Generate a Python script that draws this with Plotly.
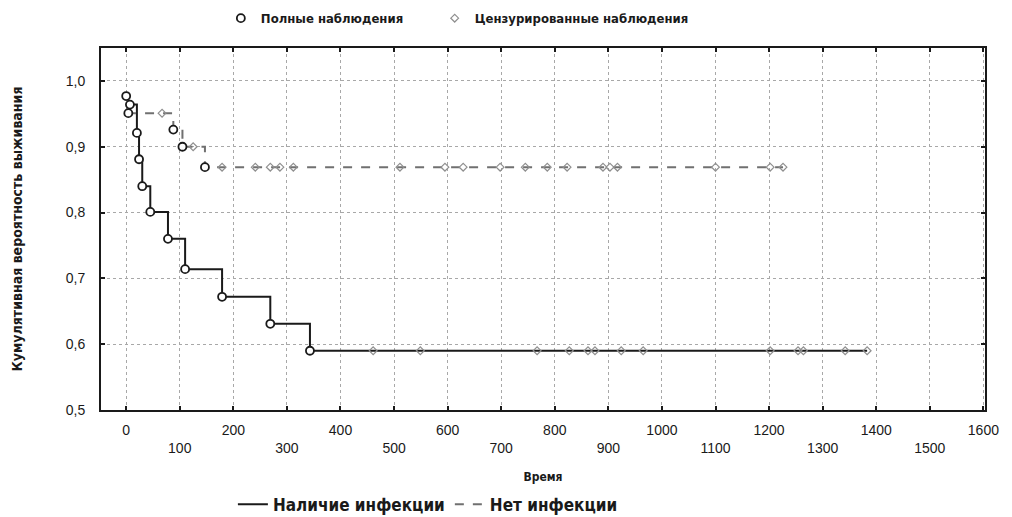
import plotly.graph_objects as go

# ---- data ----
# Наличие инфекции (solid): complete observations (events)
inf_event_t = [7, 20, 24, 30, 45, 78, 110, 179, 269, 343]
inf_event_s = [0.964, 0.921, 0.881, 0.840, 0.801, 0.760, 0.714, 0.672, 0.631, 0.590]
# censored observations
inf_cens_t = [461, 549, 767, 827, 862, 875, 924, 965, 1202, 1254, 1264, 1342, 1383]
inf_cens_s = [0.590] * 13

# Нет инфекции (dashed)
nin_event_t = [0, 4, 88, 105, 147]
nin_event_s = [0.977, 0.951, 0.926, 0.900, 0.869]
nin_cens_t = [67, 125, 179, 241, 269, 287, 312, 511, 595, 629, 698, 745, 786,
              823, 890, 903, 917, 1100, 1202, 1226]
nin_cens_s = [0.951, 0.900] + [0.869] * 18

x_tick_vals = [0, 100, 200, 300, 400, 500, 600, 700, 800, 900, 1000, 1100,
               1200, 1300, 1400, 1500, 1600]
x_tick_text = ["0", "<br>100", "200", "<br>300", "400", "<br>500", "600",
               "<br>700", "800", "<br>900", "1000", "<br>1100", "1200",
               "<br>1300", "1400", "<br>1500", "1600"]
y_tick_vals = [0.5, 0.6, 0.7, 0.8, 0.9, 1.0]
y_tick_text = ["0,5", "0,6", "0,7", "0,8", "0,9", "1,0"]

series_names = ["Наличие инфекции", "Нет инфекции"]
marker_names = ["Полные наблюдения", "Цензурированные наблюдения"]

TXT = "DejaVu Sans Condensed, DejaVu Sans, sans-serif"
WIDE = "Liberation Sans, Arial, sans-serif"
INK = "#1a1a1a"

fig = go.Figure()

# step lines
inf_line_x = inf_event_t + [max(inf_cens_t)]
inf_line_y = inf_event_s + [inf_event_s[-1]]
nin_line_x = nin_event_t + [max(nin_cens_t)]
nin_line_y = nin_event_s + [nin_event_s[-1]]

fig.add_trace(go.Scatter(
    x=inf_line_x, y=inf_line_y, mode="lines", line_shape="hv",
    line=dict(color=INK, width=2), name=series_names[0], legend="legend2"))
fig.add_trace(go.Scatter(
    x=nin_line_x, y=nin_line_y, mode="lines", line_shape="hv",
    line=dict(color="#707070", width=2, dash="dash"), name=series_names[1],
    legend="legend2"))

# censored markers
cens_marker = dict(symbol="diamond-open", size=6, color="#8f8f8f",
                   line=dict(width=1.2, color="#8f8f8f"))
fig.add_trace(go.Scatter(
    x=inf_cens_t, y=inf_cens_s, mode="markers", marker=cens_marker,
    name=marker_names[1], legendgroup="cens", showlegend=False, legend="legend3"))
fig.add_trace(go.Scatter(
    x=nin_cens_t, y=nin_cens_s, mode="markers", marker=cens_marker,
    name=marker_names[1], legendgroup="cens", showlegend=True, legend="legend3"))

# complete observations (open circles)
circ_marker = dict(symbol="circle", size=8, color="white",
                   line=dict(width=1.8, color=INK))
fig.add_trace(go.Scatter(
    x=inf_event_t, y=inf_event_s, mode="markers", marker=circ_marker,
    name=marker_names[0], legendgroup="comp", showlegend=True, legend="legend"))
fig.add_trace(go.Scatter(
    x=nin_event_t, y=nin_event_s, mode="markers", marker=circ_marker,
    name=marker_names[0], legendgroup="comp", showlegend=False, legend="legend"))

top_font = dict(family=TXT, size=13, color=INK, weight="bold")

# page has an 8px body margin, so the figure is 8px smaller and shifted
fig.update_layout(
    width=1004, height=509,
    margin=dict(l=93, r=27, t=40, b=107, autoexpand=False),
    paper_bgcolor="white", plot_bgcolor="white",
    font=dict(family=WIDE, color=INK),
    legend=dict(orientation="h", x=0.212, xanchor="left", xref="container",
                y=0.980, yanchor="middle", yref="container",
                font=top_font, bgcolor="rgba(0,0,0,0)"),
    legend3=dict(orientation="h", x=0.425, xanchor="left", xref="container",
                 y=0.980, yanchor="middle", yref="container",
                 font=top_font, bgcolor="rgba(0,0,0,0)"),
    legend2=dict(orientation="h", x=0.224, xanchor="left", xref="container",
                 y=0.024, yanchor="middle", yref="container",
                 font=dict(family=TXT, size=17, color=INK, weight="bold"),
                 bgcolor="rgba(0,0,0,0)"),
    xaxis=dict(
        range=[-47, 1603], tickvals=x_tick_vals, ticktext=x_tick_text,
        tickfont=dict(family=WIDE, size=14, color=INK),
        ticks="inside", ticklen=4, tickcolor=INK, tickwidth=2,
        ticklabelstandoff=6, automargin=False,
        showline=True, linecolor=INK, linewidth=2, mirror="ticks",
        showgrid=True, gridcolor="#a8a8a8", griddash="dot", gridwidth=1,
        zeroline=False,
        title=dict(text="Время",
                   font=dict(family=TXT, size=12, color=INK, weight="bold"),
                   standoff=18),
    ),
    yaxis=dict(
        range=[0.5, 1.05], tickvals=y_tick_vals, ticktext=y_tick_text,
        tickfont=dict(family=WIDE, size=14, color=INK),
        ticks="inside", ticklen=4, tickcolor=INK, tickwidth=2,
        ticklabelstandoff=11, automargin=False,
        showline=True, linecolor=INK, linewidth=2, mirror="ticks",
        showgrid=True, gridcolor="#a8a8a8", griddash="dot", gridwidth=1,
        zeroline=False,
        title=dict(text="Кумулятивная вероятность выживания",
                   font=dict(family=TXT, size=14, color=INK, weight="bold"),
                   standoff=40),
    ),
)

fig.write_html("out.html")
